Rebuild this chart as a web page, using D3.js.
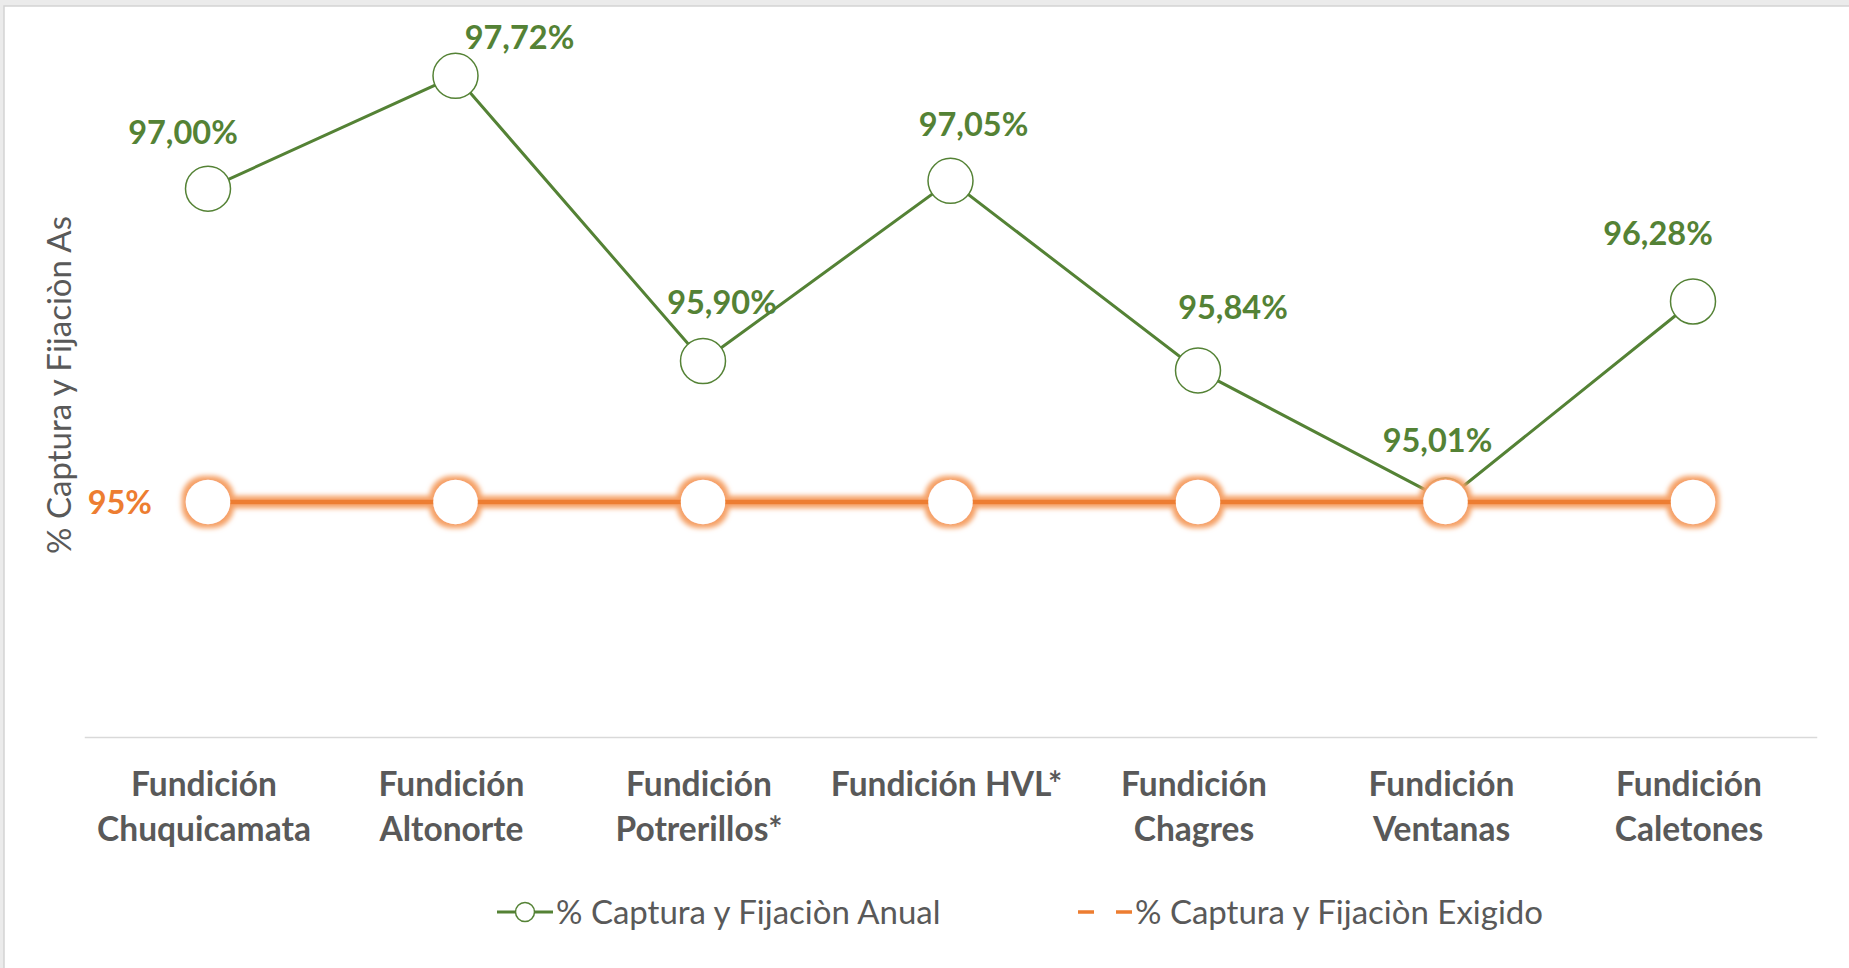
<!DOCTYPE html>
<html lang="es">
    <head>
        <meta charset="UTF-8">
        <title>% Captura y Fijación As</title>
        <style>
        body {
            margin: 0;
            overflow: hidden;
            background: #ebebeb;
        }

        .tick-label {
            font-family: Lato, sans-serif;
            font-weight: bold;
            font-size: 33.5px;
            fill: #595959;
        }

        .data-label {
            font-family: Lato, sans-serif;
            font-weight: bold;
            font-size: 32.5px;
            fill: #548235;
        }

        .legend-text, .axis-title {
            font-family: Lato, sans-serif;
            font-size: 33px;
            fill: #595959;
        }
        </style>
    </head>
    <body>
        <svg></svg>
        <script src="https://d3js.org/d3.v7.min.js"></script>
        <script>
    // Datos del gráfico
    const fundiciones = ["Fundición Chuquicamata", "Fundición Altonorte", "Fundición Potrerillos*",
        "Fundición HVL*", "Fundición Chagres", "Fundición Ventanas", "Fundición Caletones"];
    const tickLines = [["Fundición", "Chuquicamata"], ["Fundición", "Altonorte"], ["Fundición", "Potrerillos*"],
        ["Fundición HVL*"], ["Fundición", "Chagres"], ["Fundición", "Ventanas"], ["Fundición", "Caletones"]];
    const anual = [97.00, 97.72, 95.90, 97.05, 95.84, 95.01, 96.28];
    const exigido = [95, 95, 95, 95, 95, 95, 95];
    const serieNombres = ["% Captura y Fijaciòn Anual", "% Captura y Fijaciòn Exigido"];
    const yTitle = "% Captura y Fijaciòn As";

    // desplazamiento manual de las etiquetas (px) respecto al marcador
    const labelNudge = [[-25, -56], [64, -38], [19, -59], [23, -56], [35, -63], [-8, -60], [-35, -68]];

    const width = 1849, height = 968;
    const green = "#548235", orange = "#ED7D31";

    const svg = d3.select("svg")
        .attr("width", width)
        .attr("height", height);

    // glow naranjo
    const filter = svg.append("defs").append("filter")
        .attr("id", "glow")
        .attr("filterUnits", "userSpaceOnUse")
        .attr("x", 0).attr("y", 0)
        .attr("width", width).attr("height", height);
    filter.append("feMorphology").attr("in", "SourceAlpha")
        .attr("operator", "dilate").attr("radius", 3.5).attr("result", "dil");
    filter.append("feGaussianBlur").attr("in", "dil")
        .attr("stdDeviation", 2.5).attr("result", "blur");
    filter.append("feFlood").attr("flood-color", "#F5A065").attr("flood-opacity", 1);
    filter.append("feComposite").attr("in2", "blur").attr("operator", "in").attr("result", "halo");
    const merge = filter.append("feMerge");
    merge.append("feMergeNode").attr("in", "halo");
    merge.append("feMergeNode").attr("in", "SourceGraphic");

    // panel blanco
    svg.append("rect")
        .attr("x", 4).attr("y", 6)
        .attr("width", width).attr("height", height)
        .attr("fill", "#fff")
        .attr("stroke", "#d4d4d4")
        .attr("stroke-width", 1.5);

    const x = d3.scaleBand()
        .domain(fundiciones)
        .range([84.25, 1816.75]);

    const y = d3.scaleLinear()
        .domain([93.5, 98])
        .range([737, 32]);

    const cx = d => x(d) + x.bandwidth() / 2;

    // eje x
    const xAxis = svg.append("g")
        .attr("transform", `translate(0,${y(93.5)})`)
        .call(d3.axisBottom(x).tickSize(0).tickPadding(0));
    xAxis.select(".domain")
        .attr("stroke", "#d9d9d9")
        .attr("stroke-width", 1.5);
    xAxis.selectAll(".tick text").remove();
    xAxis.selectAll(".tick")
        .append("text")
        .attr("class", "tick-label")
        .attr("text-anchor", "middle")
        .attr("fill", null)
        .selectAll("tspan")
        .data((d, i) => tickLines[i])
        .enter().append("tspan")
        .attr("x", -4)
        .attr("y", (d, i) => 59 + i * 45)
        .text(d => d);

    // título eje y
    svg.append("text")
        .attr("class", "axis-title")
        .attr("text-anchor", "middle")
        .attr("transform", "translate(71,385) rotate(-90)")
        .text(yTitle);

    // serie anual (verde)
    const line = d3.line()
        .x((d, i) => cx(fundiciones[i]))
        .y(d => y(d));

    svg.append("path")
        .datum(anual)
        .attr("fill", "none")
        .attr("stroke", green)
        .attr("stroke-width", 3)
        .attr("d", line);

    svg.append("g")
        .selectAll("circle")
        .data(anual)
        .enter().append("circle")
        .attr("cx", (d, i) => cx(fundiciones[i]))
        .attr("cy", d => y(d))
        .attr("r", 22.5)
        .attr("fill", "#fff")
        .attr("stroke", green)
        .attr("stroke-width", 1.5);

    // serie exigida (naranja)
    const gExig = svg.append("g").attr("filter", "url(#glow)");
    gExig.append("path")
        .datum(exigido)
        .attr("fill", "none")
        .attr("stroke", orange)
        .attr("stroke-width", 4.5)
        .attr("d", line);
    gExig.selectAll("circle")
        .data(exigido)
        .enter().append("circle")
        .attr("cx", (d, i) => cx(fundiciones[i]))
        .attr("cy", d => y(d))
        .attr("r", 22.3)
        .attr("fill", "#fff");

    // etiquetas de datos
    const fmt = v => d3.format(".2f")(v).replace(".", ",") + "%";
    svg.append("g")
        .selectAll("text")
        .data(anual)
        .enter().append("text")
        .attr("class", "data-label")
        .attr("text-anchor", "middle")
        .attr("x", (d, i) => cx(fundiciones[i]) + labelNudge[i][0])
        .attr("y", (d, i) => y(d) + labelNudge[i][1] + 11.5)
        .text(fmt);

    svg.append("text")
        .attr("class", "data-label")
        .style("fill", orange)
        .attr("text-anchor", "end")
        .attr("x", cx(fundiciones[0]) - 56)
        .attr("y", y(exigido[0]) + 11.5)
        .text(exigido[0] + "%");

    // leyenda
    const legend = svg.append("g").attr("transform", "translate(0,912)");
    legend.append("line")
        .attr("x1", 497).attr("x2", 553)
        .attr("stroke", green).attr("stroke-width", 3);
    legend.append("circle")
        .attr("cx", 525).attr("r", 9.5)
        .attr("fill", "#fff").attr("stroke", green).attr("stroke-width", 1.5);
    legend.append("text")
        .attr("class", "legend-text")
        .attr("x", 556).attr("y", 12)
        .text(serieNombres[0]);

    legend.append("line")
        .attr("x1", 1078).attr("x2", 1132)
        .attr("stroke", orange).attr("stroke-width", 3.5)
        .attr("stroke-dasharray", "16 22");
    legend.append("text")
        .attr("class", "legend-text")
        .attr("x", 1135).attr("y", 12)
        .text(serieNombres[1]);
        </script>
    </body>
</html>
